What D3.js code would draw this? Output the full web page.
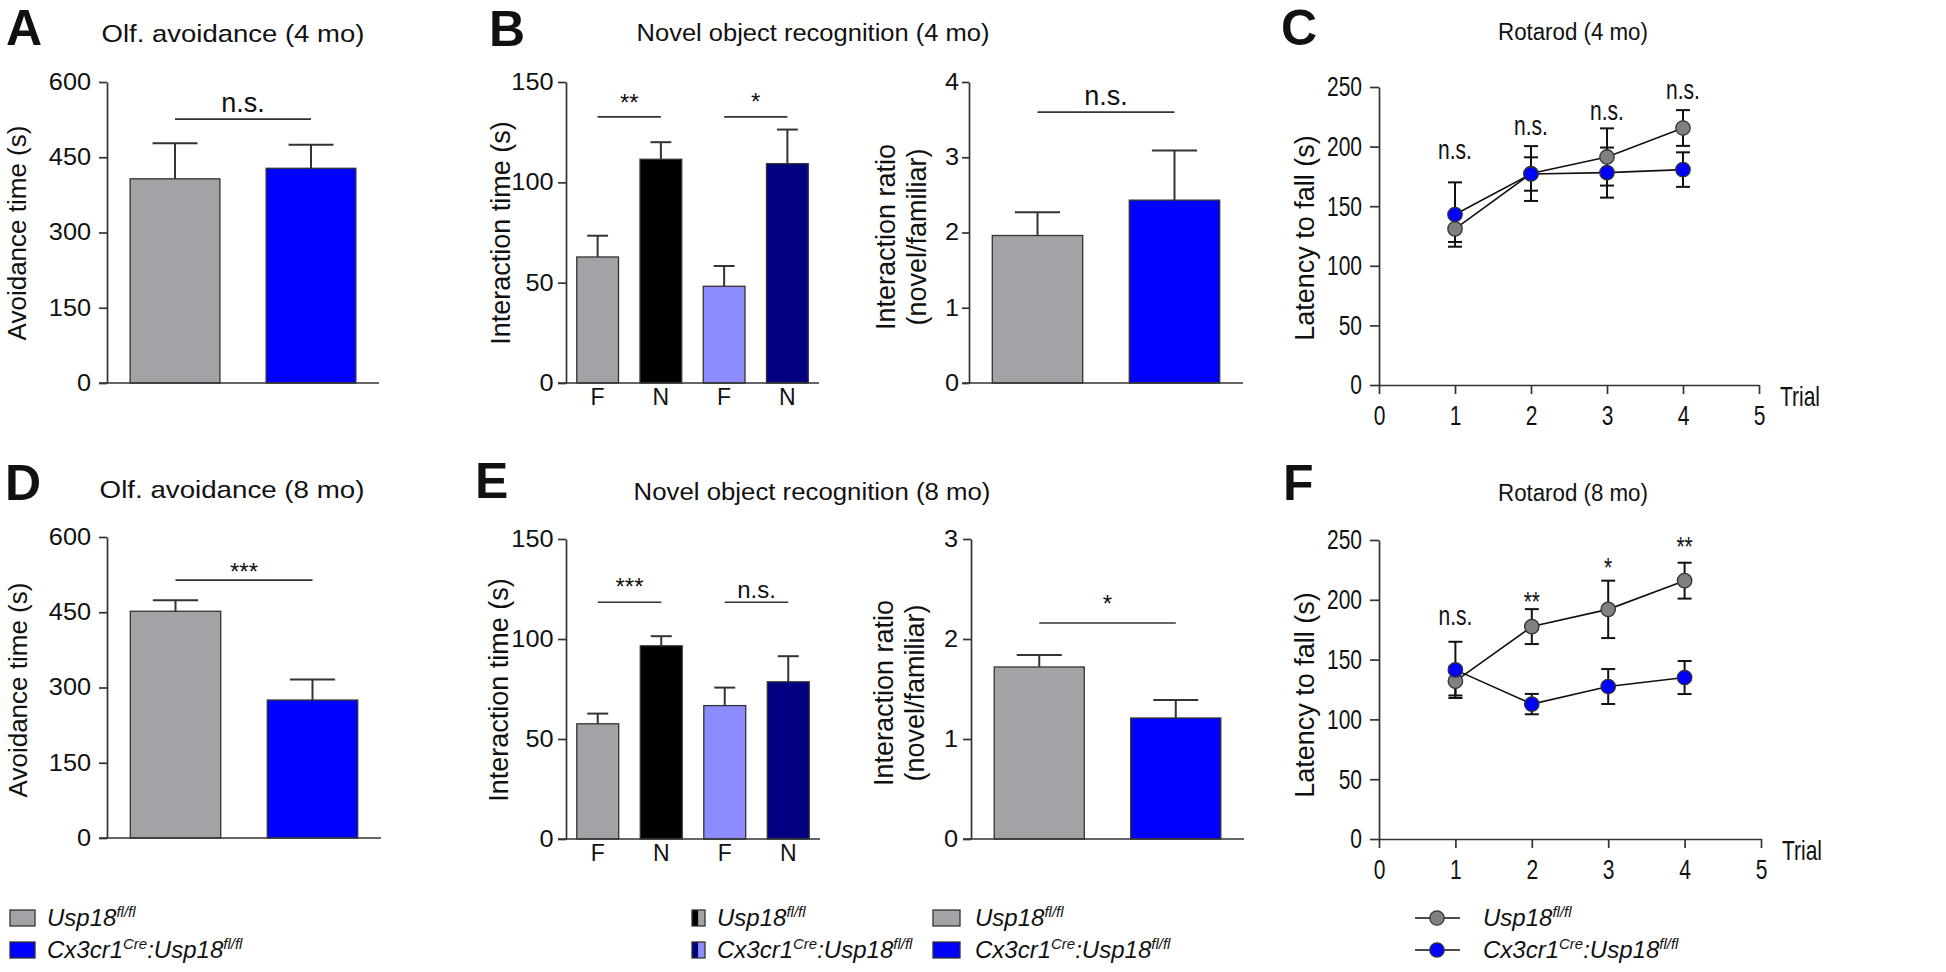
<!DOCTYPE html>
<html><head><meta charset="utf-8">
<script src="https://cdn.jsdelivr.net/npm/d3@7"></script>
<style>
body{margin:0;background:#fff}
svg{display:block}
text{font-family:"Liberation Sans",Arial,Helvetica,sans-serif;fill:#111}
</style></head><body>
<svg id="chart" width="1946" height="972"></svg>
<script>
// ---------------- DATA ----------------
const groupNames = ["Usp18fl/fl", "Cx3cr1Cre:Usp18fl/fl"];
const olfColors = ["#a3a3a7", "#0000ff"];
const olf4Means = [407, 428];
const olf4Errs = [71, 47];
const olf8Means = [452, 275];
const olf8Errs = [22, 41];
const avoidTicks = [0, 150, 300, 450, 600];

const norCats = ["F", "N", "F", "N"];
const norColors = ["#a3a3a7", "#000000", "#8c8cff", "#000080"];
const nor4Means = [62.8, 111.5, 48.2, 109.3];
const nor4Errs = [10.6, 8.5, 10.1, 17];
const nor8Means = [57.6, 96.6, 66.7, 78.6];
const nor8Errs = [5.1, 4.8, 9, 12.8];
const norTicks = [0, 50, 100, 150];

const ratio4Means = [1.96, 2.43];
const ratio4Errs = [0.31, 0.66];
const ratio4Ticks = [0, 1, 2, 3, 4];
const ratio8Means = [1.72, 1.21];
const ratio8Errs = [0.12, 0.18];
const ratio8Ticks = [0, 1, 2, 3];

const trials = [1, 2, 3, 4];
const trialTicks = [0, 1, 2, 3, 4, 5];
const latencyTicks = [0, 50, 100, 150, 200, 250];
const rot4Ctrl = [131, 177.4, 191.3, 215.6];
const rot4CtrlErr = [11, 23, 24, 15];
const rot4Ko = [143, 177, 178.2, 180.7];
const rot4KoErr = [27, 14, 21, 14.5];
const rot8Ctrl = [132, 177.6, 192, 216];
const rot8CtrlErr = [12, 14.6, 24, 15];
const rot8Ko = [141.4, 112.8, 127.5, 135];
const rot8KoErr = [23.5, 8.5, 14.6, 13.8];

// significance: [fromIndex, toIndex, lineValue, label, labelValue]
const olf4Sig = [[0, 1, 526, "n.s.", 540]];
const olf8Sig = [[0, 1, 514, "***", 514]];
const nor4Sig = [[0, 1, 132.6, "**", 135.4], [2, 3, 132.6, "*", 136]];
const nor8Sig = [[0, 1, 118.4, "***", 122.1], [2, 3, 118.4, "n.s.", 120.5]];
const ratio4Sig = [[0, 1, 3.6, "n.s.", 3.70]];
const ratio8Sig = [[0, 1, 2.16, "*", 2.27]];
const rot4Sig = ["n.s.", "n.s.", "n.s.", "n.s."];
const rot4SigAt = [190, 209.5, 222, 240.3];
const rot8Sig = ["n.s.", "**", "*", "**"];
const rot8SigAt = [179, 191, 218.8, 236.6];

const titles = ["Olf. avoidance (4 mo)", "Novel object recognition (4 mo)", "Rotarod (4 mo)",
                "Olf. avoidance (8 mo)", "Novel object recognition (8 mo)", "Rotarod (8 mo)"];
const panelLetters = ["A", "B", "C", "D", "E", "F"];

// ---------------- HELPERS ----------------
const svg = d3.select("#chart");
const INK = "#333";

function sq(sel, sx) {
  sel.each(function () {
    const t = d3.select(this);
    const x = parseFloat(t.attr("x")) || 0;
    t.attr("x", x / sx).attr("transform", `scale(${sx},1)`);
  });
}
function fitW(sel, w) {
  sel.each(function () {
    const t = d3.select(this);
    const L = this.getComputedTextLength();
    const sx = w / L;
    const x = parseFloat(t.attr("x")) || 0;
    t.attr("x", x / sx).attr("transform", `scale(${sx},1)`);
  });
}
function styleAxis(g, fs, sx) {
  g.attr("font-size", null).attr("font-family", null);
  g.selectAll("path.domain").attr("stroke", INK).attr("stroke-width", 1.7);
  g.selectAll(".tick line").attr("stroke", INK).attr("stroke-width", 1.7);
  g.selectAll(".tick text").style("font-size", fs + "px").attr("fill", "#111").call(sq, sx);
}
function yLabel(lines, xs, cy, fs) {
  lines.forEach((s, i) => {
    svg.append("text").attr("transform", `translate(${xs[i]},${cy}) rotate(-90)`)
      .attr("text-anchor", "middle").style("font-size", fs + "px").text(s);
  });
}

// ---------------- BAR PANELS ----------------
function barPanel(cfg) {
  const g = svg.append("g");
  const n = cfg.means.length;
  const y = d3.scaleLinear().domain([0, cfg.max]).range([cfg.yBot, cfg.yTop]);
  const x = d3.scalePoint().domain(d3.range(n)).range([cfg.x0, cfg.x1]).padding(0.5);
  const bw = x.step() * 0.66;
  const rows = cfg.means.map((m, i) => ({ i, m, e: cfg.errs[i], c: cfg.colors[i] }));

  const eg = g.append("g").attr("stroke", INK).attr("stroke-width", 2);
  eg.selectAll("line.v").data(rows).join("line")
    .attr("x1", d => x(d.i)).attr("x2", d => x(d.i))
    .attr("y1", d => y(d.m)).attr("y2", d => y(d.m + d.e));
  eg.selectAll("line.c").data(rows).join("line")
    .attr("x1", d => x(d.i) - bw / 4).attr("x2", d => x(d.i) + bw / 4)
    .attr("y1", d => y(d.m + d.e)).attr("y2", d => y(d.m + d.e));

  g.selectAll("rect").data(rows).join("rect")
    .attr("x", d => x(d.i) - bw / 2).attr("y", d => y(d.m))
    .attr("width", bw).attr("height", d => cfg.yBot - y(d.m))
    .attr("fill", d => d.c).attr("stroke", INK).attr("stroke-width", 1.3);

  const ay = g.append("g").attr("transform", `translate(${cfg.x0},0)`)
    .call(d3.axisLeft(y).tickValues(cfg.ticks).tickSize(cfg.tick).tickSizeOuter(0)
      .tickPadding(cfg.pad).tickFormat(d3.format("d")));
  styleAxis(ay, 23, 1.1);

  g.append("line").attr("x1", cfg.x0 - cfg.tick).attr("x2", cfg.x1)
    .attr("y1", cfg.yBot).attr("y2", cfg.yBot).attr("stroke", INK).attr("stroke-width", 1.7);

  if (cfg.cats) {
    g.selectAll("text.cat").data(cfg.cats).join("text")
      .attr("x", (d, i) => x(i)).attr("y", cfg.yBot + 22)
      .attr("text-anchor", "middle").style("font-size", "23px").text(d => d);
  }
  cfg.sig.forEach(s => {
    g.append("line").attr("x1", x(s[0])).attr("x2", x(s[1]))
      .attr("y1", y(s[2])).attr("y2", y(s[2])).attr("stroke", INK).attr("stroke-width", 1.6);
    g.append("text").attr("x", (x(s[0]) + x(s[1])) / 2).attr("y", y(s[4]))
      .attr("text-anchor", "middle").style("font-size", (s[3] === "n.s." ? cfg.nsSize : 24) + "px").text(s[3]);
  });
}

// ---------------- LINE PANELS ----------------
function rotPanel(cfg) {
  const g = svg.append("g");
  const x = d3.scaleLinear().domain([0, 5]).range([cfg.x0, cfg.x1]);
  const y = d3.scaleLinear().domain([0, 250]).range([cfg.yBot, cfg.yTop]);
  const ax = g.append("g").attr("transform", `translate(0,${cfg.yBot})`)
    .call(d3.axisBottom(x).tickValues(trialTicks).tickSize(9).tickSizeOuter(0).tickPadding(11).tickFormat(d3.format("d")));
  styleAxis(ax, 28, 0.75);
  const ay = g.append("g").attr("transform", `translate(${cfg.x0},0)`)
    .call(d3.axisLeft(y).tickValues(latencyTicks).tickSize(9).tickSizeOuter(0).tickPadding(8).tickFormat(d3.format("d")));
  styleAxis(ay, 28, 0.75);
  g.append("text").attr("x", cfg.x1 + 21).attr("y", cfg.yBot + 21).style("font-size", "28px").text("Trial").call(sq, 0.75);

  const series = [
    { v: cfg.ctrl, e: cfg.ctrlErr, fill: "#808080" },
    { v: cfg.ko, e: cfg.koErr, fill: "#0000ff" }
  ];
  const line = d3.line().x((d, i) => x(trials[i])).y(d => y(d));
  series.forEach(s => {
    const pts = s.v.map((v, i) => ({ t: trials[i], v, e: s.e[i] }));
    const eg = g.append("g").attr("stroke", "#111").attr("stroke-width", 2);
    eg.selectAll("line.v").data(pts).join("line")
      .attr("x1", d => x(d.t)).attr("x2", d => x(d.t)).attr("y1", d => y(d.v - d.e)).attr("y2", d => y(d.v + d.e));
    eg.selectAll("line.t").data(pts).join("line")
      .attr("x1", d => x(d.t) - 7).attr("x2", d => x(d.t) + 7).attr("y1", d => y(d.v + d.e)).attr("y2", d => y(d.v + d.e));
    eg.selectAll("line.b").data(pts).join("line")
      .attr("x1", d => x(d.t) - 7).attr("x2", d => x(d.t) + 7).attr("y1", d => y(d.v - d.e)).attr("y2", d => y(d.v - d.e));
  });
  series.forEach(s => {
    g.append("path").datum(s.v).attr("d", line).attr("fill", "none").attr("stroke", "#111").attr("stroke-width", 1.6);
  });
  series.forEach(s => {
    g.selectAll(null).data(s.v).join("circle")
      .attr("cx", (d, i) => x(trials[i])).attr("cy", d => y(d)).attr("r", 7.2)
      .attr("fill", s.fill).attr("stroke", "#333").attr("stroke-width", 1.3);
  });
  g.selectAll("text.sig").data(cfg.sig).join("text")
    .attr("x", (d, i) => x(trials[i])).attr("y", (d, i) => y(cfg.sigAt[i]))
    .attr("text-anchor", "middle").style("font-size", "28px").text(d => d).call(sq, 0.75);
}

// ---------------- BUILD ----------------
barPanel({ x0: 107, x1: 379, yTop: 82, yBot: 383, max: 600, ticks: avoidTicks, tick: 8, pad: 8,
  means: olf4Means, errs: olf4Errs, colors: olfColors, sig: olf4Sig, nsSize: 27 });
barPanel({ x0: 107, x1: 381, yTop: 537, yBot: 838, max: 600, ticks: avoidTicks, tick: 8, pad: 8,
  means: olf8Means, errs: olf8Errs, colors: olfColors, sig: olf8Sig, nsSize: 27 });
barPanel({ x0: 566, x1: 819, yTop: 82, yBot: 383, max: 150, ticks: norTicks, tick: 8, pad: 4.5,
  means: nor4Means, errs: nor4Errs, colors: norColors, cats: norCats, sig: nor4Sig, nsSize: 24 });
barPanel({ x0: 566, x1: 820, yTop: 539, yBot: 839, max: 150, ticks: norTicks, tick: 8, pad: 4.5,
  means: nor8Means, errs: nor8Errs, colors: norColors, cats: norCats, sig: nor8Sig, nsSize: 24 });
barPanel({ x0: 969, x1: 1243, yTop: 82, yBot: 383, max: 4, ticks: ratio4Ticks, tick: 7, pad: 3,
  means: ratio4Means, errs: ratio4Errs, colors: olfColors, sig: ratio4Sig, nsSize: 27 });
barPanel({ x0: 971, x1: 1244, yTop: 539, yBot: 839, max: 3, ticks: ratio8Ticks, tick: 8, pad: 5,
  means: ratio8Means, errs: ratio8Errs, colors: olfColors, sig: ratio8Sig, nsSize: 27 });

rotPanel({ x0: 1379, x1: 1759, yTop: 87, yBot: 385, ctrl: rot4Ctrl, ctrlErr: rot4CtrlErr, ko: rot4Ko, koErr: rot4KoErr, sig: rot4Sig, sigAt: rot4SigAt });
rotPanel({ x0: 1379, x1: 1761, yTop: 540, yBot: 839, ctrl: rot8Ctrl, ctrlErr: rot8CtrlErr, ko: rot8Ko, koErr: rot8KoErr, sig: rot8Sig, sigAt: rot8SigAt });

// axis titles
yLabel(["Avoidance time (s)"], [26], 233, 26);
yLabel(["Avoidance time (s)"], [27], 690, 26);
yLabel(["Interaction time (s)"], [510], 233, 27);
yLabel(["Interaction time (s)"], [508], 690, 27);
yLabel(["Interaction ratio", "(novel/familiar)"], [895, 926], 237, 27);
yLabel(["Interaction ratio", "(novel/familiar)"], [893, 924], 693, 27);
yLabel(["Latency to fall (s)"], [1314], 238, 27);
yLabel(["Latency to fall (s)"], [1314], 695, 27);

// panel titles
const titlePos = [[233, 42, 263, 24], [813, 41, 353, 24], [1573, 40, 150, 23],
                  [232, 498, 265, 24], [812, 500, 357, 24], [1573, 501, 150, 23]];
titles.forEach((t, i) => {
  const p = titlePos[i];
  svg.append("text").attr("x", p[0]).attr("y", p[1]).attr("text-anchor", "middle")
    .style("font-size", p[3] + "px").text(t).call(fitW, p[2]);
});
const letterPos = [[6, 45], [489, 46], [1281, 45], [5, 500], [475, 498], [1283, 500]];
panelLetters.forEach((l, i) => {
  svg.append("text").attr("x", letterPos[i][0]).attr("y", letterPos[i][1])
    .style("font-size", "50px").style("font-weight", "bold").attr("fill", "#000").text(l);
});

// ---------------- LEGENDS ----------------
const ctrlLabel = [["Usp18", false], ["fl/fl", true]];
const koLabel = [["Cx3cr1", false], ["Cre", true], [":Usp18", false], ["fl/fl", true]];
function legText(x, y, segs) {
  const t = svg.append("text").attr("x", x).attr("y", y).style("font-size", "24px").style("font-style", "italic");
  let up = false;
  segs.forEach(s => {
    const ts = t.append("tspan").text(s[0]);
    if (s[1] && !up) { ts.attr("dy", -9).style("font-size", "15px"); up = true; }
    else if (!s[1] && up) { ts.attr("dy", 9); up = false; }
    else if (s[1]) ts.style("font-size", "15px");
  });
}
const legRows = [926, 958];
function legendBars(x, w, h, fills, tx) {
  [0, 1].forEach(r => {
    const f = fills[r];
    const yy = legRows[r] - 16;
    f.forEach((c, k) => {
      svg.append("rect").attr("x", x + k * w / f.length).attr("y", yy).attr("width", w / f.length).attr("height", h)
        .attr("fill", c).attr("stroke", "none");
    });
    svg.append("rect").attr("x", x).attr("y", yy).attr("width", w).attr("height", h)
      .attr("fill", "none").attr("stroke", INK).attr("stroke-width", 1.3);
    legText(tx, legRows[r], r === 0 ? ctrlLabel : koLabel);
  });
}
legendBars(10, 25, 16, [[olfColors[0]], [olfColors[1]]], 47);
legendBars(692, 13, 16, [[norColors[1], norColors[0]], [norColors[3], norColors[2]]], 717);
legendBars(933, 27, 16, [[olfColors[0]], [olfColors[1]]], 975);
[0, 1].forEach(r => {
  const yy = legRows[r] - 8;
  svg.append("line").attr("x1", 1415).attr("x2", 1460).attr("y1", yy).attr("y2", yy).attr("stroke", "#111").attr("stroke-width", 1.6);
  svg.append("circle").attr("cx", 1437).attr("cy", yy).attr("r", 7.2)
    .attr("fill", r === 0 ? "#808080" : "#0000ff").attr("stroke", "#333").attr("stroke-width", 1.3);
  legText(1483, legRows[r], r === 0 ? ctrlLabel : koLabel);
});
</script>
</body></html>
